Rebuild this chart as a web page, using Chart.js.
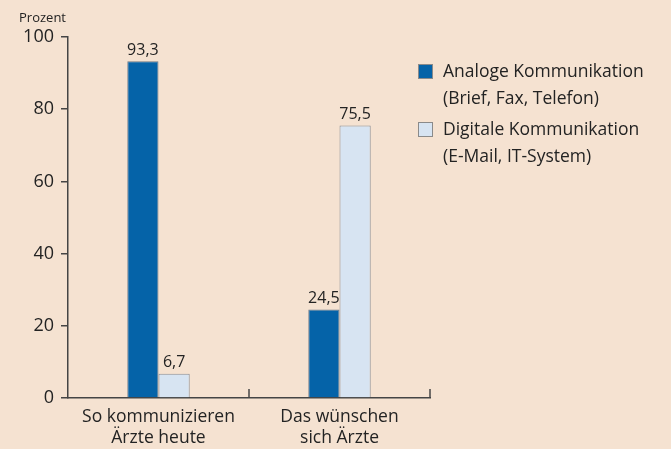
<!DOCTYPE html>
<html>
<head>
<meta charset="utf-8">
<script src="https://cdn.jsdelivr.net/npm/chart.js@4"></script>
<style>
  html, body { margin: 0; padding: 0; background: #f5e2d1; }
  #wrap { width: 671px; height: 449px; position: relative; }
</style>
</head>
<body>
<div id="wrap"><canvas id="chart"></canvas></div>
<script>
// data
const categories = [['So kommunizieren', 'Ärzte heute'], ['Das wünschen', 'sich Ärzte']];
const analogValues = [93.3, 24.5];
const digitalValues = [6.7, 75.5];
const legendLabels = [
    ['Analoge Kommunikation', '(Brief, Fax, Telefon)'],
    ['Digitale Kommunikation', '(E-Mail, IT-System)']
];
const yTicks = [0, 20, 40, 60, 80, 100];

const FONT = '"Open Sans", "Noto Sans", sans-serif';
const TEXT = '#232323';
const AXIS = '#454545';

// value labels, "Prozent" caption, axis ticks and legend
const extras = {
    id: 'extras',
    afterDatasetsDraw(chart) {
        const ctx = chart.ctx;
        const x = chart.scales.x;
        const y = chart.scales.y;
        ctx.save();

        // value labels above bars
        ctx.fillStyle = TEXT;
        ctx.font = '16px ' + FONT;
        ctx.textAlign = 'center';
        ctx.textBaseline = 'bottom';
        chart.data.datasets.forEach((ds, di) => {
            chart.getDatasetMeta(di).data.forEach((bar, i) => {
                const txt = ds.data[i].toFixed(1).replace('.', ',');
                ctx.fillText(txt, bar.x, bar.y - 3);
            });
        });

        // caption
        ctx.font = '13px ' + FONT;
        ctx.textAlign = 'right';
        ctx.textBaseline = 'middle';
        ctx.fillText('Prozent', x.left - 2, y.top - 19);

        // upward ticks at category boundaries
        ctx.strokeStyle = AXIS;
        ctx.lineWidth = 1.5;
        for (let i = 0; i < categories.length; i++) {
            const bx = x.getPixelForValue(i) + x.width / categories.length / 2;
            ctx.beginPath();
            ctx.moveTo(bx, y.bottom);
            ctx.lineTo(bx, y.bottom - 9);
            ctx.stroke();
        }

        // legend
        const lx = 418, ly = 64;
        chart.data.datasets.forEach((ds, di) => {
            const top = ly + di * 58;
            ctx.fillStyle = ds.backgroundColor;
            ctx.fillRect(lx, top, 15, 15);
            ctx.strokeStyle = '#8a8a8a';
            ctx.lineWidth = 1;
            ctx.strokeRect(lx + 0.5, top + 0.5, 14, 14);
            ctx.fillStyle = TEXT;
            ctx.font = '17.5px ' + FONT;
            ctx.textAlign = 'left';
            ctx.textBaseline = 'middle';
            legendLabels[di].forEach((line, li) => {
                ctx.fillText(line, lx + 25, top + 8 + li * 27);
            });
        });
        ctx.restore();
    }
};

new Chart(document.getElementById('chart'), {
    type: 'bar',
    data: {
        labels: categories,
        datasets: [
            {
                label: 'Analoge Kommunikation',
                data: analogValues,
                backgroundColor: '#0563a8',
                borderColor: '#6f7a86',
                borderWidth: 1
            },
            {
                label: 'Digitale Kommunikation',
                data: digitalValues,
                backgroundColor: '#d7e4f2',
                borderColor: '#8a8f96',
                borderWidth: 1
            }
        ]
    },
    options: {
        responsive: true,
        maintainAspectRatio: false,
        animation: false,
        layout: { padding: { top: 37, right: 241, left: 0, bottom: 0 } },
        categoryPercentage: 0.345,
        barPercentage: 1,
        plugins: {
            legend: { display: false },
            tooltip: { enabled: false }
        },
        scales: {
            x: {
                grid: { display: false },
                border: { display: true, color: AXIS, width: 1.5 },
                ticks: {
                    color: TEXT,
                    font: { family: FONT, size: 17.5 },
                    padding: 1,
                    maxRotation: 0
                },
                afterFit(scale) { scale.height = 51; }
            },
            y: {
                min: 0,
                max: 100,
                afterBuildTicks(scale) { scale.ticks = yTicks.map(v => ({ value: v })); },
                grid: {
                    drawOnChartArea: false,
                    drawTicks: true,
                    tickLength: 7,
                    color: AXIS,
                    lineWidth: 1.5
                },
                border: { display: true, color: AXIS, width: 1.5 },
                ticks: {
                    color: TEXT,
                    font: { family: FONT, size: 18 },
                    padding: 7
                },
                afterFit(scale) { scale.width = 68; }
            }
        }
    },
    plugins: [extras]
});
</script>
</body>
</html>
